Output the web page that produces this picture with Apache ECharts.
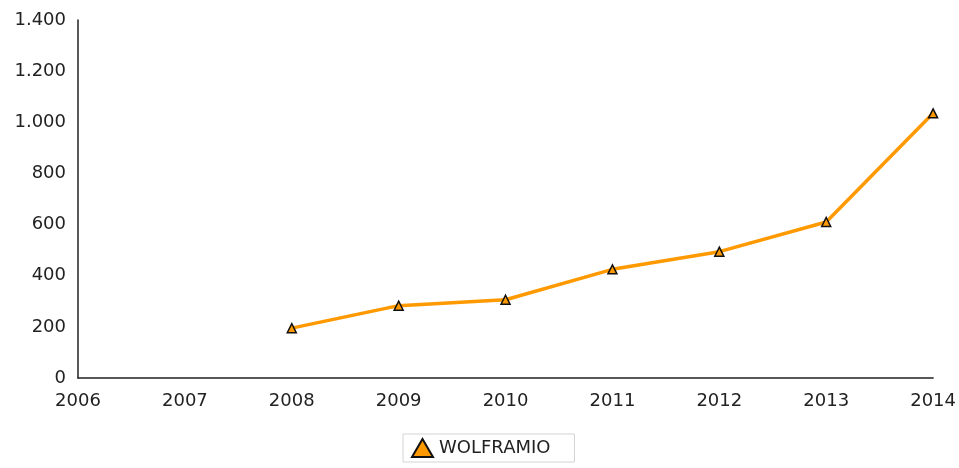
<!DOCTYPE html>
<html>
<head>
<meta charset="utf-8">
<script src="https://cdn.jsdelivr.net/npm/echarts@6/dist/echarts.min.js"></script>
<style>
  html, body { margin: 0; padding: 0; background: #fff; }
  #chart { width: 959px; height: 468px; }
</style>
</head>
<body>
<div id="chart"></div>
<script>
// Years on the category axis
const years = ['2006', '2007', '2008', '2009', '2010', '2011', '2012', '2013', '2014'];
// WOLFRAMIO values per year (no data for 2006-2007)
const wolframio = [null, null, 195, 283, 306, 425, 494, 610, 1035];
// Value axis tick labels
const yTicks = [0, 200, 400, 600, 800, 1000, 1200, 1400];

function thousands(v) {
  return String(v).replace(/\B(?=(\d{3})+(?!\d))/g, '.');
}

const chart = echarts.init(document.getElementById('chart'));
chart.setOption({
  animation: false,
  textStyle: { fontFamily: 'DejaVu Sans' },
  grid: { left: 78, right: 23, top: 20, bottom: 90 },
  legend: {
    left: 403,
    top: 434,
    padding: [4, 24, 4, 8],
    borderColor: '#d4d4d4',
    borderWidth: 1,
    itemWidth: 21,
    itemHeight: 18,
    itemGap: 4,
    textStyle: { fontSize: 18, color: '#222', fontFamily: 'DejaVu Sans', padding: [0, 0, 0, 1] },
    data: [{ name: 'WOLFRAMIO', icon: 'triangle' }]
  },
  xAxis: {
    type: 'category',
    data: years,
    boundaryGap: false,
    axisLine: { lineStyle: { color: '#222', width: 1.5 } },
    axisTick: { show: false },
    axisLabel: { color: '#222', fontSize: 18, margin: 14 }
  },
  yAxis: {
    type: 'value',
    min: yTicks[0],
    max: yTicks[yTicks.length - 1],
    interval: yTicks[1] - yTicks[0],
    splitLine: { show: false },
    axisLine: { show: true, lineStyle: { color: '#222', width: 1.5 } },
    axisTick: { show: false },
    axisLabel: { color: '#222', fontSize: 18, margin: 12, formatter: thousands }
  },
  series: [{
    name: 'WOLFRAMIO',
    type: 'line',
    data: wolframio,
    symbol: 'triangle',
    symbolSize: 9,
    itemStyle: { color: '#ff9900', borderColor: '#111', borderWidth: 1.5 },
    lineStyle: { color: '#ff9900', width: 3.5 },
    connectNulls: false
  }]
});
</script>
</body>
</html>
